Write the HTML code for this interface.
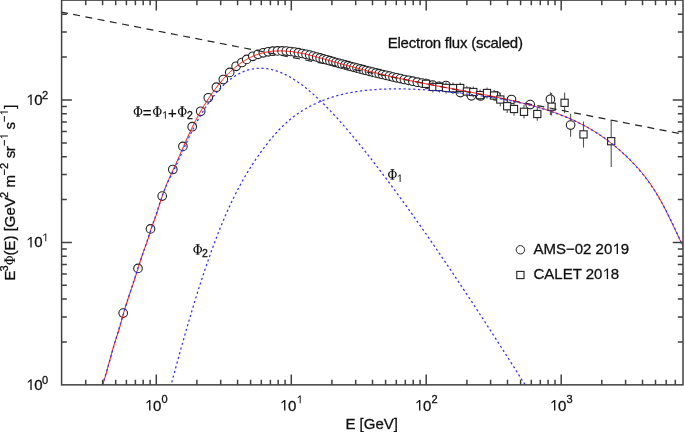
<!DOCTYPE html>
<html><head><meta charset="utf-8"><style>html,body{margin:0;padding:0;background:#fff;}svg{display:block;}</style></head><body>
<svg width="685" height="432" viewBox="0 0 685 432" style="will-change:transform">
<rect width="685" height="432" fill="#fff"/>
<defs><clipPath id="pc"><rect x="61.6" y="0.1" width="621.4" height="384.75"/></clipPath></defs>
<g stroke="#222" stroke-width="1.1" fill="#fff">
<line x1="550.4" y1="92.2" x2="550.4" y2="114.9" stroke="#555"/>
<line x1="570.6" y1="113.8" x2="570.6" y2="136.7" stroke="#555"/>
<circle cx="123.2" cy="313.1" r="4.3"/>
<circle cx="138.0" cy="268.4" r="4.3"/>
<circle cx="150.5" cy="228.9" r="4.3"/>
<circle cx="162.2" cy="196.1" r="4.3"/>
<circle cx="172.8" cy="169.5" r="4.3"/>
<circle cx="182.9" cy="146.4" r="4.3"/>
<circle cx="192.2" cy="126.7" r="4.3"/>
<circle cx="200.7" cy="111.3" r="4.3"/>
<circle cx="208.3" cy="97.8" r="4.3"/>
<circle cx="216.4" cy="87.2" r="4.3"/>
<circle cx="223.3" cy="79.5" r="4.3"/>
<circle cx="229.7" cy="72.4" r="4.3"/>
<circle cx="236.1" cy="66.3" r="4.3"/>
<circle cx="241.9" cy="62.5" r="4.3"/>
<circle cx="246.7" cy="59.4" r="4.3"/>
<circle cx="252.8" cy="56.3" r="4.3"/>
<circle cx="258.1" cy="54.3" r="4.3"/>
<circle cx="263.3" cy="52.8" r="4.3"/>
<circle cx="268.2" cy="51.8" r="4.3"/>
<circle cx="272.9" cy="51.2" r="4.3"/>
<circle cx="277.5" cy="50.9" r="4.3"/>
<circle cx="282.0" cy="50.9" r="4.3"/>
<circle cx="286.3" cy="51.1" r="4.3"/>
<circle cx="290.5" cy="51.5" r="4.3"/>
<circle cx="294.5" cy="52.1" r="4.3"/>
<circle cx="298.4" cy="52.7" r="4.3"/>
<circle cx="302.3" cy="53.5" r="4.3"/>
<circle cx="306.0" cy="54.3" r="4.3"/>
<circle cx="309.7" cy="55.1" r="4.3"/>
<circle cx="313.2" cy="56.1" r="4.3"/>
<circle cx="316.7" cy="57.0" r="4.3"/>
<circle cx="320.1" cy="57.9" r="4.3"/>
<circle cx="323.4" cy="58.9" r="4.3"/>
<circle cx="326.7" cy="59.8" r="4.3"/>
<circle cx="329.9" cy="60.7" r="4.3"/>
<circle cx="333.0" cy="61.6" r="4.3"/>
<circle cx="336.0" cy="62.5" r="4.3"/>
<circle cx="339.1" cy="63.3" r="4.3"/>
<circle cx="342.0" cy="64.1" r="4.3"/>
<circle cx="345.0" cy="64.9" r="4.3"/>
<circle cx="348.0" cy="65.7" r="4.3"/>
<circle cx="350.9" cy="66.5" r="4.3"/>
<circle cx="354.0" cy="67.3" r="4.3"/>
<circle cx="357.0" cy="68.1" r="4.3"/>
<circle cx="360.1" cy="68.9" r="4.3"/>
<circle cx="363.2" cy="69.7" r="4.3"/>
<circle cx="366.3" cy="70.5" r="4.3"/>
<circle cx="369.5" cy="71.3" r="4.3"/>
<circle cx="372.6" cy="72.1" r="4.3"/>
<circle cx="375.9" cy="72.9" r="4.3"/>
<circle cx="379.2" cy="73.7" r="4.3"/>
<circle cx="382.5" cy="74.5" r="4.3"/>
<circle cx="386.0" cy="75.3" r="4.3"/>
<circle cx="389.5" cy="76.1" r="4.3"/>
<circle cx="393.0" cy="77.0" r="4.3"/>
<circle cx="396.7" cy="77.8" r="4.3"/>
<circle cx="400.5" cy="78.6" r="4.3"/>
<circle cx="404.4" cy="79.5" r="4.3"/>
<circle cx="408.5" cy="80.3" r="4.3"/>
<circle cx="412.8" cy="81.2" r="4.3"/>
<circle cx="417.3" cy="82.2" r="4.3"/>
<circle cx="422.1" cy="83.1" r="4.3"/>
<circle cx="427.1" cy="84.1" r="4.3"/>
<circle cx="432.7" cy="85.1" r="4.3"/>
<circle cx="438.8" cy="86.3" r="4.3"/>
<circle cx="446.0" cy="85.5" r="4.3"/>
<circle cx="453.4" cy="88.5" r="4.3"/>
<circle cx="460.4" cy="92.6" r="4.3"/>
<circle cx="471.4" cy="95.8" r="4.3"/>
<circle cx="480.6" cy="96.0" r="4.3"/>
<circle cx="496.0" cy="95.8" r="4.3"/>
<circle cx="511.5" cy="99.5" r="4.3"/>
<circle cx="530.2" cy="104.6" r="4.3"/>
<circle cx="550.4" cy="99.3" r="4.3"/>
<circle cx="570.6" cy="125.1" r="4.3"/>
<line x1="426.0" y1="78.2" x2="426.0" y2="89.39999999999999" stroke="#555"/>
<rect x="422.4" y="80.2" width="7.2" height="7.2" stroke-width="1.1"/>
<line x1="432.9" y1="81.30000000000001" x2="432.9" y2="92.5" stroke="#555"/>
<rect x="429.3" y="83.3" width="7.2" height="7.2" stroke-width="1.1"/>
<line x1="439.4" y1="81.4" x2="439.4" y2="92.6" stroke="#555"/>
<rect x="435.8" y="83.4" width="7.2" height="7.2" stroke-width="1.1"/>
<line x1="446.0" y1="82.30000000000001" x2="446.0" y2="93.5" stroke="#555"/>
<rect x="442.4" y="84.3" width="7.2" height="7.2" stroke-width="1.1"/>
<line x1="453.0" y1="82.60000000000001" x2="453.0" y2="93.8" stroke="#555"/>
<rect x="449.4" y="84.6" width="7.2" height="7.2" stroke-width="1.1"/>
<line x1="460.2" y1="82.4" x2="460.2" y2="93.6" stroke="#555"/>
<rect x="456.6" y="84.4" width="7.2" height="7.2" stroke-width="1.1"/>
<line x1="466.9" y1="85.9" x2="466.9" y2="97.1" stroke="#555"/>
<rect x="463.3" y="87.9" width="7.2" height="7.2" stroke-width="1.1"/>
<line x1="473.3" y1="86.4" x2="473.3" y2="97.6" stroke="#555"/>
<rect x="469.7" y="88.4" width="7.2" height="7.2" stroke-width="1.1"/>
<line x1="480.1" y1="89.5" x2="480.1" y2="100.69999999999999" stroke="#555"/>
<rect x="476.5" y="91.5" width="7.2" height="7.2" stroke-width="1.1"/>
<line x1="487.0" y1="87.4" x2="487.0" y2="98.6" stroke="#555"/>
<rect x="483.4" y="89.4" width="7.2" height="7.2" stroke-width="1.1"/>
<line x1="494.0" y1="89.9" x2="494.0" y2="101.1" stroke="#555"/>
<rect x="490.4" y="91.9" width="7.2" height="7.2" stroke-width="1.1"/>
<line x1="500.3" y1="92.7" x2="500.3" y2="106.3" stroke="#555"/>
<rect x="496.7" y="95.9" width="7.2" height="7.2" stroke-width="1.1"/>
<line x1="507.2" y1="99.4" x2="507.2" y2="113.0" stroke="#555"/>
<rect x="503.6" y="102.6" width="7.2" height="7.2" stroke-width="1.1"/>
<line x1="514.0" y1="102.2" x2="514.0" y2="115.8" stroke="#555"/>
<rect x="510.4" y="105.4" width="7.2" height="7.2" stroke-width="1.1"/>
<line x1="524.0" y1="105.0" x2="524.0" y2="118.6" stroke="#555"/>
<rect x="520.4" y="108.2" width="7.2" height="7.2" stroke-width="1.1"/>
<line x1="537.3" y1="107.2" x2="537.3" y2="120.8" stroke="#555"/>
<rect x="533.7" y="110.4" width="7.2" height="7.2" stroke-width="1.1"/>
<line x1="551.6" y1="93.0" x2="551.6" y2="115.5" stroke="#555"/>
<rect x="548.0" y="103.1" width="7.2" height="7.2" stroke-width="1.1"/>
<line x1="564.6" y1="92.6" x2="564.6" y2="113.0" stroke="#555"/>
<rect x="561.0" y="99.2" width="7.2" height="7.2" stroke-width="1.1"/>
<line x1="583.5" y1="121.6" x2="583.5" y2="147.6" stroke="#555"/>
<rect x="579.9" y="130.8" width="7.2" height="7.2" stroke-width="1.1"/>
<line x1="611.2" y1="119.9" x2="611.2" y2="166.9" stroke="#555"/>
<rect x="607.6" y="137.6" width="7.2" height="7.2" stroke-width="1.1"/>
</g>
<g clip-path="url(#pc)" fill="none">
<line x1="60.95" y1="12.03" x2="690" y2="135.57" stroke="#222" stroke-width="1.2" stroke-dasharray="7 5.45"/>
<path d="M101.6,387.5 L102.6,384.9 L103.6,382.0 L104.6,378.8 L105.6,375.4 L106.6,371.9 L107.6,368.3 L108.6,364.6 L109.6,360.8 L110.6,357.1 L111.6,353.4 L112.6,349.8 L113.6,346.4 L114.6,343.2 L115.6,340.1 L116.6,337.1 L117.6,334.1 L118.6,331.0 L119.6,327.7 L120.6,324.2 L121.6,320.4 L122.6,316.6 L123.6,313.0 L124.6,309.5 L125.6,306.2 L126.6,303.0 L127.6,300.0 L128.6,297.0 L129.6,294.1 L130.6,291.2 L131.6,288.3 L132.6,285.4 L133.6,282.4 L134.6,279.3 L135.6,276.1 L136.6,272.9 L137.6,269.6 L138.6,266.4 L139.6,263.1 L140.6,260.0 L141.6,257.0 L142.6,254.1 L143.6,251.3 L144.6,248.6 L145.6,245.9 L146.6,243.2 L147.6,240.3 L148.6,237.1 L149.6,233.7 L150.6,230.3 L151.6,227.3 L152.6,224.6 L153.6,222.0 L154.6,219.4 L155.6,216.7 L156.6,213.8 L157.6,210.6 L158.6,207.4 L159.6,204.2 L160.6,201.0 L161.6,198.0 L162.6,195.1 L163.6,192.3 L164.6,189.6 L165.6,187.0 L166.6,184.5 L167.6,182.1 L168.6,179.8 L169.6,177.5 L170.6,175.3 L171.6,173.1 L172.6,170.9 L173.6,168.8 L174.6,166.6 L175.6,164.4 L176.6,162.2 L177.6,160.0 L178.6,157.8 L179.6,155.5 L180.6,153.2 L181.6,150.9 L182.6,148.6 L183.6,146.3 L184.6,144.0 L185.6,141.8 L186.6,139.5 L187.6,137.2 L188.6,135.0 L189.6,132.8 L190.6,130.7 L191.6,128.5 L192.6,126.5 L193.6,124.4 L194.6,122.4 L195.6,120.5 L196.6,118.6 L197.6,116.7 L198.6,114.9 L199.6,113.1 L200.6,111.4 L201.6,109.6 L202.6,107.9 L203.6,106.3 L204.6,104.7 L205.6,103.1 L206.6,101.5 L207.6,100.0 L208.6,98.4 L209.6,96.9 L210.6,95.5 L211.6,94.0 L212.6,92.6 L213.6,91.2 L214.6,89.8 L215.6,88.5 L216.6,87.2 L217.6,85.9 L218.6,84.6 L219.6,83.4 L220.6,82.1 L221.6,81.0 L222.6,79.8 L223.6,78.6 L224.6,77.5 L225.6,76.4 L226.6,75.4 L227.6,74.3 L228.6,73.3 L229.6,72.3 L230.6,71.4 L231.6,70.5 L232.6,69.6 L233.6,68.7 L234.6,67.8 L235.6,67.0 L236.6,66.2 L237.6,65.4 L238.6,64.6 L239.6,63.9 L240.6,63.2 L241.6,62.5 L242.6,61.8 L243.6,61.2 L244.6,60.6 L245.6,60.0 L246.6,59.4 L247.6,58.9 L248.6,58.3 L249.6,57.8 L250.6,57.3 L251.6,56.9 L252.6,56.4 L253.6,56.0 L254.6,55.6 L255.6,55.2 L256.6,54.8 L257.6,54.5 L258.6,54.1 L259.6,53.8 L260.6,53.5 L261.6,53.2 L262.6,53.0 L263.6,52.7 L264.6,52.5 L265.6,52.3 L266.6,52.1 L267.6,51.9 L268.6,51.7 L269.6,51.6 L270.6,51.5 L271.6,51.3 L272.6,51.2 L273.6,51.1 L274.6,51.1 L275.6,51.0 L276.6,51.0 L277.6,50.9 L278.6,50.9 L279.6,50.9 L280.6,50.9 L281.6,50.9 L282.6,50.9 L283.6,51.0 L284.6,51.0 L285.6,51.1 L286.6,51.1 L287.6,51.2 L288.6,51.3 L289.6,51.4 L290.6,51.5 L291.6,51.6 L292.6,51.8 L293.6,51.9 L294.6,52.1 L295.6,52.2 L296.6,52.4 L297.6,52.6 L298.6,52.7 L299.6,52.9 L300.6,53.1 L301.6,53.3 L302.6,53.5 L303.6,53.7 L304.6,53.9 L305.6,54.2 L306.6,54.4 L307.6,54.6 L308.6,54.9 L309.6,55.1 L310.6,55.4 L311.6,55.6 L312.6,55.9 L313.6,56.2 L314.6,56.4 L315.6,56.7 L316.6,57.0 L317.6,57.2 L318.6,57.5 L319.6,57.8 L320.6,58.1 L321.6,58.3 L322.6,58.6 L323.6,58.9 L324.6,59.2 L325.6,59.5 L326.6,59.8 L327.6,60.1 L328.6,60.3 L329.6,60.6 L330.6,60.9 L331.6,61.2 L332.6,61.5 L333.6,61.8 L334.6,62.1 L335.6,62.3 L336.6,62.6 L337.6,62.9 L338.6,63.2 L339.6,63.4 L340.6,63.7 L341.6,64.0 L342.6,64.3 L343.6,64.6 L344.6,64.8 L345.6,65.1 L346.6,65.4 L347.6,65.6 L348.6,65.9 L349.6,66.2 L350.6,66.4 L351.6,66.7 L352.6,67.0 L353.6,67.2 L354.6,67.5 L355.6,67.8 L356.6,68.0 L357.6,68.3 L358.6,68.6 L359.6,68.8 L360.6,69.1 L361.6,69.3 L362.6,69.6 L363.6,69.8 L364.6,70.1 L365.6,70.4 L366.6,70.6 L367.6,70.9 L368.6,71.1 L369.6,71.4 L370.6,71.6 L371.6,71.9 L372.6,72.1 L373.6,72.4 L374.6,72.6 L375.6,72.8 L376.6,73.1 L377.6,73.3 L378.6,73.6 L379.6,73.8 L380.6,74.1 L381.6,74.3 L382.6,74.5 L383.6,74.8 L384.6,75.0 L385.6,75.2 L386.6,75.5 L387.6,75.7 L388.6,75.9 L389.6,76.2 L390.6,76.4 L391.6,76.6 L392.6,76.9 L393.6,77.1 L394.6,77.3 L395.6,77.5 L396.6,77.8 L397.6,78.0 L398.6,78.2 L399.6,78.4 L400.6,78.6 L401.6,78.9 L402.6,79.1 L403.6,79.3 L404.6,79.5 L405.6,79.7 L406.6,79.9 L407.6,80.1 L408.6,80.4 L409.6,80.6 L410.6,80.8 L411.6,81.0 L412.6,81.2 L413.6,81.4 L414.6,81.6 L415.6,81.8 L416.6,82.0 L417.6,82.2 L418.6,82.4 L419.6,82.6 L420.6,82.8 L421.6,83.0 L422.6,83.2 L423.6,83.4 L424.6,83.6 L425.6,83.8 L426.6,84.0 L427.6,84.2 L428.6,84.4 L429.6,84.6 L430.6,84.7 L431.6,84.9 L432.6,85.1 L433.6,85.3 L434.6,85.5 L435.6,85.7 L436.6,85.9 L437.6,86.1 L438.6,86.2 L439.6,86.4 L440.6,86.6 L441.6,86.8 L442.6,87.0 L443.6,87.2 L444.6,87.4 L445.6,87.5 L446.6,87.7 L447.6,87.9 L448.6,88.1 L449.6,88.3 L450.6,88.4 L451.6,88.6 L452.6,88.8 L453.6,89.0 L454.6,89.2 L455.6,89.4 L456.6,89.5 L457.6,89.7 L458.6,89.9 L459.6,90.1 L460.6,90.3 L461.6,90.5 L462.6,90.6 L463.6,90.8 L464.6,91.0 L465.6,91.2 L466.6,91.4 L467.6,91.6 L468.6,91.8 L469.6,91.9 L470.6,92.1 L471.6,92.3 L472.6,92.5 L473.6,92.7 L474.6,92.9 L475.6,93.1 L476.6,93.3 L477.6,93.4 L478.6,93.6 L479.6,93.8 L480.6,94.0 L481.6,94.2 L482.6,94.4 L483.6,94.6 L484.6,94.8 L485.6,95.0 L486.6,95.2 L487.6,95.4 L488.6,95.6 L489.6,95.8 L490.6,96.0 L491.6,96.2 L492.6,96.4 L493.6,96.6 L494.6,96.8 L495.6,97.0 L496.6,97.2 L497.6,97.4 L498.6,97.6 L499.6,97.9 L500.6,98.1 L501.6,98.3 L502.6,98.5 L503.6,98.7 L504.6,98.9 L505.6,99.1 L506.6,99.4 L507.6,99.6 L508.6,99.8 L509.6,100.0 L510.6,100.3 L511.6,100.5 L512.6,100.7 L513.6,101.0 L514.6,101.2 L515.6,101.4 L516.6,101.7 L517.6,101.9 L518.6,102.1 L519.6,102.4 L520.6,102.6 L521.6,102.9 L522.6,103.1 L523.6,103.4 L524.6,103.6 L525.6,103.9 L526.6,104.1 L527.6,104.4 L528.6,104.7 L529.6,104.9 L530.6,105.2 L531.6,105.5 L532.6,105.7 L533.6,106.0 L534.6,106.3 L535.6,106.6 L536.6,106.8 L537.6,107.1 L538.6,107.4 L539.6,107.7 L540.6,108.0 L541.6,108.3 L542.6,108.6 L543.6,108.9 L544.6,109.2 L545.6,109.5 L546.6,109.8 L547.6,110.2 L548.6,110.5 L549.6,110.8 L550.6,111.2 L551.6,111.5 L552.6,111.8 L553.6,112.2 L554.6,112.5 L555.6,112.9 L556.6,113.3 L557.6,113.6 L558.6,114.0 L559.6,114.4 L560.6,114.8 L561.6,115.2 L562.6,115.5 L563.6,115.9 L564.6,116.4 L565.6,116.8 L566.6,117.2 L567.6,117.6 L568.6,118.0 L569.6,118.5 L570.6,118.9 L571.6,119.4 L572.6,119.8 L573.6,120.3 L574.6,120.7 L575.6,121.2 L576.6,121.7 L577.6,122.2 L578.6,122.7 L579.6,123.2 L580.6,123.7 L581.6,124.2 L582.6,124.7 L583.6,125.3 L584.6,125.8 L585.6,126.3 L586.6,126.9 L587.6,127.5 L588.6,128.0 L589.6,128.6 L590.6,129.2 L591.6,129.8 L592.6,130.4 L593.6,131.0 L594.6,131.6 L595.6,132.3 L596.6,132.9 L597.6,133.5 L598.6,134.2 L599.6,134.9 L600.6,135.5 L601.6,136.2 L602.6,136.9 L603.6,137.6 L604.6,138.3 L605.6,139.0 L606.6,139.8 L607.6,140.5 L608.6,141.3 L609.6,142.0 L610.6,142.8 L611.6,143.6 L612.6,144.4 L613.6,145.2 L614.6,146.0 L615.6,146.8 L616.6,147.6 L617.6,148.5 L618.6,149.3 L619.6,150.2 L620.6,151.1 L621.6,152.0 L622.6,152.9 L623.6,153.8 L624.6,154.7 L625.6,155.6 L626.6,156.6 L627.6,157.5 L628.6,158.5 L629.6,159.5 L630.6,160.5 L631.6,161.5 L632.6,162.5 L633.6,163.5 L634.6,164.6 L635.6,165.6 L636.6,166.7 L637.6,167.8 L638.6,168.9 L639.6,170.1 L640.6,171.2 L641.6,172.4 L642.6,173.6 L643.6,174.8 L644.6,176.1 L645.6,177.3 L646.6,178.7 L647.6,180.0 L648.6,181.4 L649.6,182.7 L650.6,184.2 L651.6,185.6 L652.6,187.1 L653.6,188.7 L654.6,190.2 L655.6,191.8 L656.6,193.5 L657.6,195.2 L658.6,196.9 L659.6,198.7 L660.6,200.5 L661.6,202.3 L662.6,204.2 L663.6,206.1 L664.6,208.1 L665.6,210.0 L666.6,212.0 L667.6,214.0 L668.6,216.1 L669.6,218.1 L670.6,220.2 L671.6,222.3 L672.6,224.4 L673.6,226.5 L674.6,228.6 L675.6,230.7 L676.6,232.8 L677.6,235.0 L678.6,237.1 L679.6,239.2 L680.6,241.3 L681.6,243.3 L682.6,245.4 L683.6,247.5" stroke="#ff0000" stroke-width="0.95"/>
<path d="M101.4,387.6 L102.4,384.9 L103.4,381.9 L104.4,378.8 L105.4,375.6 L106.4,372.3 L107.4,368.8 L108.4,365.3 L109.4,361.8 L110.4,358.2 L111.4,354.6 L112.4,351.1 L113.4,347.6 L114.4,344.1 L115.4,340.7 L116.4,337.3 L117.4,333.9 L118.4,330.5 L119.4,327.2 L120.4,323.8 L121.4,320.5 L122.4,317.3 L123.4,314.0 L124.4,310.7 L125.4,307.5 L126.4,304.3 L127.4,301.1 L128.4,297.9 L129.4,294.7 L130.4,291.6 L131.4,288.5 L132.4,285.3 L133.4,282.2 L134.4,279.2 L135.4,276.1 L136.4,273.0 L137.4,270.0 L138.4,267.0 L139.4,264.0 L140.4,261.0 L141.4,258.0 L142.4,255.0 L143.4,252.1 L144.4,249.1 L145.4,246.2 L146.4,243.2 L147.4,240.3 L148.4,237.3 L149.4,234.4 L150.4,231.4 L151.4,228.4 L152.4,225.4 L153.4,222.5 L154.4,219.5 L155.4,216.5 L156.4,213.5 L157.4,210.5 L158.4,207.4 L159.4,204.5 L160.4,201.5 L161.4,198.6 L162.4,195.7 L163.4,193.0 L164.4,190.3 L165.4,187.8 L166.4,185.3 L167.4,183.1 L168.4,180.9 L169.4,178.8 L170.4,176.8 L171.4,174.8 L172.4,172.8 L173.4,170.9 L174.4,168.9 L175.4,166.9 L176.4,164.8 L177.4,162.7 L178.4,160.5 L179.4,158.3 L180.4,156.1 L181.4,153.9 L182.4,151.6 L183.4,149.4 L184.4,147.2 L185.4,145.0 L186.4,142.8 L187.4,140.6 L188.4,138.5 L189.4,136.4 L190.4,134.4 L191.4,132.3 L192.4,130.3 L193.4,128.4 L194.4,126.5 L195.4,124.6 L196.4,122.7 L197.4,120.9 L198.4,119.1 L199.4,117.4 L200.4,115.7 L201.4,114.0 L202.4,112.3 L203.4,110.7 L204.4,109.1 L205.4,107.6 L206.4,106.1 L207.4,104.6 L208.4,103.1 L209.4,101.7 L210.4,100.4 L211.4,99.0 L212.4,97.7 L213.4,96.4 L214.4,95.1 L215.4,93.9 L216.4,92.7 L217.4,91.6 L218.4,90.4 L219.4,89.3 L220.4,88.3 L221.4,87.2 L222.4,86.2 L223.4,85.2 L224.4,84.3 L225.4,83.4 L226.4,82.5 L227.4,81.6 L228.4,80.8 L229.4,80.0 L230.4,79.2 L231.4,78.5 L232.4,77.7 L233.4,77.0 L234.4,76.4 L235.4,75.7 L236.4,75.1 L237.4,74.6 L238.4,74.0 L239.4,73.5 L240.4,73.0 L241.4,72.5 L242.4,72.1 L243.4,71.6 L244.4,71.2 L245.4,70.9 L246.4,70.5 L247.4,70.2 L248.4,69.9 L249.4,69.6 L250.4,69.4 L251.4,69.2 L252.4,69.0 L253.4,68.8 L254.4,68.6 L255.4,68.5 L256.4,68.4 L257.4,68.3 L258.4,68.3 L259.4,68.2 L260.4,68.2 L261.4,68.2 L262.4,68.3 L263.4,68.3 L264.4,68.4 L265.4,68.5 L266.4,68.6 L267.4,68.7 L268.4,68.9 L269.4,69.1 L270.4,69.3 L271.4,69.5 L272.4,69.8 L273.4,70.0 L274.4,70.3 L275.4,70.6 L276.4,70.9 L277.4,71.3 L278.4,71.6 L279.4,72.0 L280.4,72.4 L281.4,72.8 L282.4,73.2 L283.4,73.7 L284.4,74.2 L285.4,74.6 L286.4,75.1 L287.4,75.7 L288.4,76.2 L289.4,76.7 L290.4,77.3 L291.4,77.9 L292.4,78.5 L293.4,79.1 L294.4,79.7 L295.4,80.4 L296.4,81.0 L297.4,81.7 L298.4,82.4 L299.4,83.1 L300.4,83.8 L301.4,84.6 L302.4,85.3 L303.4,86.1 L304.4,86.9 L305.4,87.6 L306.4,88.4 L307.4,89.2 L308.4,90.1 L309.4,90.9 L310.4,91.8 L311.4,92.6 L312.4,93.5 L313.4,94.4 L314.4,95.3 L315.4,96.2 L316.4,97.1 L317.4,98.0 L318.4,99.0 L319.4,99.9 L320.4,100.9 L321.4,101.8 L322.4,102.8 L323.4,103.8 L324.4,104.8 L325.4,105.8 L326.4,106.8 L327.4,107.8 L328.4,108.8 L329.4,109.9 L330.4,110.9 L331.4,112.0 L332.4,113.0 L333.4,114.1 L334.4,115.2 L335.4,116.2 L336.4,117.3 L337.4,118.4 L338.4,119.5 L339.4,120.6 L340.4,121.8 L341.4,122.9 L342.4,124.0 L343.4,125.2 L344.4,126.3 L345.4,127.4 L346.4,128.6 L347.4,129.8 L348.4,130.9 L349.4,132.1 L350.4,133.3 L351.4,134.5 L352.4,135.7 L353.4,136.9 L354.4,138.1 L355.4,139.3 L356.4,140.5 L357.4,141.7 L358.4,142.9 L359.4,144.2 L360.4,145.4 L361.4,146.6 L362.4,147.9 L363.4,149.1 L364.4,150.4 L365.4,151.7 L366.4,152.9 L367.4,154.2 L368.4,155.5 L369.4,156.7 L370.4,158.0 L371.4,159.3 L372.4,160.6 L373.4,161.9 L374.4,163.2 L375.4,164.5 L376.4,165.8 L377.4,167.1 L378.4,168.4 L379.4,169.7 L380.4,171.0 L381.4,172.3 L382.4,173.7 L383.4,175.0 L384.4,176.3 L385.4,177.6 L386.4,179.0 L387.4,180.3 L388.4,181.7 L389.4,183.0 L390.4,184.3 L391.4,185.7 L392.4,187.0 L393.4,188.4 L394.4,189.8 L395.4,191.1 L396.4,192.5 L397.4,193.8 L398.4,195.2 L399.4,196.6 L400.4,198.0 L401.4,199.3 L402.4,200.7 L403.4,202.1 L404.4,203.5 L405.4,204.9 L406.4,206.2 L407.4,207.6 L408.4,209.0 L409.4,210.4 L410.4,211.8 L411.4,213.2 L412.4,214.6 L413.4,216.0 L414.4,217.4 L415.4,218.8 L416.4,220.3 L417.4,221.7 L418.4,223.1 L419.4,224.5 L420.4,225.9 L421.4,227.4 L422.4,228.8 L423.4,230.2 L424.4,231.6 L425.4,233.1 L426.4,234.5 L427.4,236.0 L428.4,237.4 L429.4,238.8 L430.4,240.3 L431.4,241.7 L432.4,243.2 L433.4,244.6 L434.4,246.1 L435.4,247.5 L436.4,249.0 L437.4,250.5 L438.4,251.9 L439.4,253.4 L440.4,254.8 L441.4,256.3 L442.4,257.8 L443.4,259.3 L444.4,260.7 L445.4,262.2 L446.4,263.7 L447.4,265.2 L448.4,266.6 L449.4,268.1 L450.4,269.6 L451.4,271.1 L452.4,272.6 L453.4,274.1 L454.4,275.6 L455.4,277.1 L456.4,278.6 L457.4,280.1 L458.4,281.6 L459.4,283.1 L460.4,284.6 L461.4,286.1 L462.4,287.6 L463.4,289.1 L464.4,290.6 L465.4,292.1 L466.4,293.6 L467.4,295.1 L468.4,296.7 L469.4,298.2 L470.4,299.7 L471.4,301.2 L472.4,302.7 L473.4,304.3 L474.4,305.8 L475.4,307.3 L476.4,308.9 L477.4,310.4 L478.4,311.9 L479.4,313.5 L480.4,315.0 L481.4,316.5 L482.4,318.1 L483.4,319.6 L484.4,321.1 L485.4,322.7 L486.4,324.2 L487.4,325.8 L488.4,327.3 L489.4,328.9 L490.4,330.4 L491.4,332.0 L492.4,333.5 L493.4,335.1 L494.4,336.6 L495.4,338.2 L496.4,339.7 L497.4,341.3 L498.4,342.9 L499.4,344.4 L500.4,346.0 L501.4,347.5 L502.4,349.1 L503.4,350.7 L504.4,352.2 L505.4,353.8 L506.4,355.4 L507.4,356.9 L508.4,358.5 L509.4,360.1 L510.4,361.6 L511.4,363.2 L512.4,364.8 L513.4,366.4 L514.4,367.9 L515.4,369.5 L516.4,371.1 L517.4,372.7 L518.4,374.2 L519.4,375.8 L520.4,377.4 L521.4,379.0 L522.4,380.6 L523.4,382.2 L524.4,383.7 L525.4,385.3" stroke="#3030ff" stroke-width="1.25" stroke-dasharray="2.2 2.65" stroke-dashoffset="2.25"/>
<path d="M170.1,388.6 L171.1,384.8 L172.1,381.1 L173.1,377.4 L174.1,373.7 L175.1,370.0 L176.1,366.3 L177.1,362.6 L178.1,359.0 L179.1,355.4 L180.1,351.8 L181.1,348.2 L182.1,344.6 L183.1,341.1 L184.1,337.6 L185.1,334.1 L186.1,330.6 L187.1,327.1 L188.1,323.7 L189.1,320.3 L190.1,316.9 L191.1,313.5 L192.1,310.2 L193.1,306.9 L194.1,303.6 L195.1,300.3 L196.1,297.1 L197.1,293.9 L198.1,290.7 L199.1,287.6 L200.1,284.4 L201.1,281.3 L202.1,278.3 L203.1,275.2 L204.1,272.2 L205.1,269.2 L206.1,266.3 L207.1,263.4 L208.1,260.5 L209.1,257.6 L210.1,254.8 L211.1,252.0 L212.1,249.2 L213.1,246.5 L214.1,243.8 L215.1,241.1 L216.1,238.5 L217.1,235.9 L218.1,233.3 L219.1,230.8 L220.1,228.3 L221.1,225.8 L222.1,223.4 L223.1,221.0 L224.1,218.7 L225.1,216.3 L226.1,214.0 L227.1,211.8 L228.1,209.5 L229.1,207.3 L230.1,205.2 L231.1,203.0 L232.1,200.9 L233.1,198.9 L234.1,196.8 L235.1,194.8 L236.1,192.8 L237.1,190.9 L238.1,189.0 L239.1,187.1 L240.1,185.2 L241.1,183.4 L242.1,181.6 L243.1,179.8 L244.1,178.0 L245.1,176.3 L246.1,174.6 L247.1,172.9 L248.1,171.3 L249.1,169.7 L250.1,168.1 L251.1,166.5 L252.1,164.9 L253.1,163.4 L254.1,161.9 L255.1,160.4 L256.1,158.9 L257.1,157.4 L258.1,156.0 L259.1,154.5 L260.1,153.1 L261.1,151.7 L262.1,150.4 L263.1,149.0 L264.1,147.7 L265.1,146.4 L266.1,145.1 L267.1,143.8 L268.1,142.5 L269.1,141.3 L270.1,140.0 L271.1,138.8 L272.1,137.6 L273.1,136.4 L274.1,135.3 L275.1,134.2 L276.1,133.0 L277.1,131.9 L278.1,130.9 L279.1,129.8 L280.1,128.8 L281.1,127.7 L282.1,126.7 L283.1,125.8 L284.1,124.8 L285.1,123.9 L286.1,122.9 L287.1,122.1 L288.1,121.2 L289.1,120.3 L290.1,119.5 L291.1,118.7 L292.1,117.9 L293.1,117.1 L294.1,116.3 L295.1,115.6 L296.1,114.9 L297.1,114.1 L298.1,113.5 L299.1,112.8 L300.1,112.1 L301.1,111.5 L302.1,110.9 L303.1,110.2 L304.1,109.6 L305.1,109.0 L306.1,108.5 L307.1,107.9 L308.1,107.4 L309.1,106.8 L310.1,106.3 L311.1,105.8 L312.1,105.3 L313.1,104.8 L314.1,104.3 L315.1,103.8 L316.1,103.4 L317.1,102.9 L318.1,102.5 L319.1,102.0 L320.1,101.6 L321.1,101.2 L322.1,100.8 L323.1,100.4 L324.1,100.0 L325.1,99.6 L326.1,99.2 L327.1,98.9 L328.1,98.5 L329.1,98.2 L330.1,97.8 L331.1,97.5 L332.1,97.2 L333.1,96.9 L334.1,96.6 L335.1,96.3 L336.1,96.0 L337.1,95.7 L338.1,95.4 L339.1,95.1 L340.1,94.9 L341.1,94.6 L342.1,94.4 L343.1,94.1 L344.1,93.9 L345.1,93.7 L346.1,93.5 L347.1,93.2 L348.1,93.0 L349.1,92.8 L350.1,92.6 L351.1,92.5 L352.1,92.3 L353.1,92.1 L354.1,91.9 L355.1,91.8 L356.1,91.6 L357.1,91.5 L358.1,91.3 L359.1,91.2 L360.1,91.0 L361.1,90.9 L362.1,90.8 L363.1,90.6 L364.1,90.5 L365.1,90.4 L366.1,90.3 L367.1,90.2 L368.1,90.1 L369.1,90.0 L370.1,89.9 L371.1,89.8 L372.1,89.8 L373.1,89.7 L374.1,89.6 L375.1,89.5 L376.1,89.5 L377.1,89.4 L378.1,89.4 L379.1,89.3 L380.1,89.2 L381.1,89.2 L382.1,89.2 L383.1,89.1 L384.1,89.1 L385.1,89.0 L386.1,89.0 L387.1,89.0 L388.1,88.9 L389.1,88.9 L390.1,88.9 L391.1,88.9 L392.1,88.9 L393.1,88.9 L394.1,88.8 L395.1,88.8 L396.1,88.8 L397.1,88.8 L398.1,88.8 L399.1,88.8 L400.1,88.8 L401.1,88.9 L402.1,88.9 L403.1,88.9 L404.1,88.9 L405.1,88.9 L406.1,88.9 L407.1,89.0 L408.1,89.0 L409.1,89.0 L410.1,89.1 L411.1,89.1 L412.1,89.1 L413.1,89.2 L414.1,89.2 L415.1,89.3 L416.1,89.3 L417.1,89.4 L418.1,89.4 L419.1,89.5 L420.1,89.5 L421.1,89.6 L422.1,89.6 L423.1,89.7 L424.1,89.8 L425.1,89.8 L426.1,89.9 L427.1,90.0 L428.1,90.0 L429.1,90.1 L430.1,90.2 L431.1,90.3 L432.1,90.3 L433.1,90.4 L434.1,90.5 L435.1,90.6 L436.1,90.7 L437.1,90.8 L438.1,90.8 L439.1,90.9 L440.1,91.0 L441.1,91.1 L442.1,91.2 L443.1,91.3 L444.1,91.4 L445.1,91.5 L446.1,91.6 L447.1,91.7 L448.1,91.8 L449.1,91.9 L450.1,92.0 L451.1,92.1 L452.1,92.3 L453.1,92.4 L454.1,92.5 L455.1,92.6 L456.1,92.7 L457.1,92.8 L458.1,92.9 L459.1,93.1 L460.1,93.2 L461.1,93.3 L462.1,93.4 L463.1,93.5 L464.1,93.7 L465.1,93.8 L466.1,93.9 L467.1,94.0 L468.1,94.2 L469.1,94.3 L470.1,94.4 L471.1,94.5 L472.1,94.7 L473.1,94.8 L474.1,94.9 L475.1,95.1 L476.1,95.2 L477.1,95.3 L478.1,95.5 L479.1,95.6 L480.1,95.7 L481.1,95.9 L482.1,96.0 L483.1,96.2 L484.1,96.3 L485.1,96.5 L486.1,96.6 L487.1,96.8 L488.1,96.9 L489.1,97.1 L490.1,97.2 L491.1,97.4 L492.1,97.5 L493.1,97.7 L494.1,97.8 L495.1,98.0 L496.1,98.2 L497.1,98.3 L498.1,98.5 L499.1,98.7 L500.1,98.8 L501.1,99.0 L502.1,99.2 L503.1,99.4 L504.1,99.5 L505.1,99.7 L506.1,99.9 L507.1,100.1 L508.1,100.3 L509.1,100.5 L510.1,100.7 L511.1,100.9 L512.1,101.1 L513.1,101.3 L514.1,101.5 L515.1,101.7 L516.1,101.9 L517.1,102.1 L518.1,102.3 L519.1,102.6 L520.1,102.8 L521.1,103.0 L522.1,103.3 L523.1,103.5 L524.1,103.7 L525.1,104.0 L526.1,104.2 L527.1,104.5 L528.1,104.7 L529.1,105.0 L530.1,105.2 L531.1,105.5 L532.1,105.7 L533.1,106.0 L534.1,106.3 L535.1,106.6 L536.1,106.8 L537.1,107.1 L538.1,107.4 L539.1,107.7 L540.1,108.0 L541.1,108.3 L542.1,108.6 L543.1,108.9 L544.1,109.2 L545.1,109.5 L546.1,109.8 L547.1,110.2 L548.1,110.5 L549.1,110.8 L550.1,111.2 L551.1,111.5 L552.1,111.8 L553.1,112.2 L554.1,112.5 L555.1,112.9 L556.1,113.3 L557.1,113.6 L558.1,114.0 L559.1,114.4 L560.1,114.8 L561.1,115.2 L562.1,115.6 L563.1,116.0 L564.1,116.4 L565.1,116.8 L566.1,117.2 L567.1,117.6 L568.1,118.0 L569.1,118.4 L570.1,118.9 L571.1,119.3 L572.1,119.8 L573.1,120.2 L574.1,120.7 L575.1,121.1 L576.1,121.6 L577.1,122.1 L578.1,122.6 L579.1,123.1 L580.1,123.5 L581.1,124.0 L582.1,124.6 L583.1,125.1 L584.1,125.6 L585.1,126.1 L586.1,126.7 L587.1,127.2 L588.1,127.8 L589.1,128.3 L590.1,128.9 L591.1,129.5 L592.1,130.1 L593.1,130.6 L594.1,131.2 L595.1,131.9 L596.1,132.5 L597.1,133.1 L598.1,133.8 L599.1,134.4 L600.1,135.1 L601.1,135.7 L602.1,136.4 L603.1,137.1 L604.1,137.8 L605.1,138.5 L606.1,139.2 L607.1,139.9 L608.1,140.7 L609.1,141.4 L610.1,142.2 L611.1,143.0 L612.1,143.8 L613.1,144.6 L614.1,145.4 L615.1,146.2 L616.1,147.0 L617.1,147.9 L618.1,148.7 L619.1,149.6 L620.1,150.5 L621.1,151.4 L622.1,152.3 L623.1,153.2 L624.1,154.1 L625.1,155.1 L626.1,156.0 L627.1,157.0 L628.1,158.0 L629.1,159.0 L630.1,160.0 L631.1,161.0 L632.1,162.1 L633.1,163.1 L634.1,164.2 L635.1,165.3 L636.1,166.4 L637.1,167.5 L638.1,168.7 L639.1,169.8 L640.1,171.0 L641.1,172.2 L642.1,173.4 L643.1,174.7 L644.1,175.9 L645.1,177.2 L646.1,178.5 L647.1,179.9 L648.1,181.3 L649.1,182.6 L650.1,184.1 L651.1,185.5 L652.1,187.0 L653.1,188.5 L654.1,190.0 L655.1,191.6 L656.1,193.1 L657.1,194.8 L658.1,196.4 L659.1,198.1 L660.1,199.8 L661.1,201.6 L662.1,203.3 L663.1,205.1 L664.1,207.0 L665.1,208.9 L666.1,210.8 L667.1,212.7 L668.1,214.7 L669.1,216.6 L670.1,218.6 L671.1,220.7 L672.1,222.7 L673.1,224.8 L674.1,226.9 L675.1,229.1 L676.1,231.2 L677.1,233.4 L678.1,235.6 L679.1,237.8 L680.1,240.0 L681.1,242.3 L682.1,244.6 L683.1,246.9" stroke="#3030ff" stroke-width="1.25" stroke-dasharray="2.2 2.65" stroke-dashoffset="3.25"/>
</g>
<g stroke="#404040" stroke-width="1.5" fill="none">
<rect x="61.6" y="0.1" width="621.4" height="384.75"/>
<path d="M85.7,384.85v-5.2 M85.7,0.1v5.2 M102.6,384.85v-5.2 M102.6,0.1v5.2 M115.7,384.85v-5.2 M115.7,0.1v5.2 M126.4,384.85v-5.2 M126.4,0.1v5.2 M135.4,384.85v-5.2 M135.4,0.1v5.2 M143.2,384.85v-5.2 M143.2,0.1v5.2 M150.1,384.85v-5.2 M150.1,0.1v5.2 M156.3,384.85v-10.3 M156.3,0.1v10.3 M196.9,384.85v-5.2 M196.9,0.1v5.2 M220.7,384.85v-5.2 M220.7,0.1v5.2 M237.6,384.85v-5.2 M237.6,0.1v5.2 M250.6,384.85v-5.2 M250.6,0.1v5.2 M261.3,384.85v-5.2 M261.3,0.1v5.2 M270.4,384.85v-5.2 M270.4,0.1v5.2 M278.2,384.85v-5.2 M278.2,0.1v5.2 M285.1,384.85v-5.2 M285.1,0.1v5.2 M291.3,384.85v-10.3 M291.3,0.1v10.3 M331.9,384.85v-5.2 M331.9,0.1v5.2 M355.7,384.85v-5.2 M355.7,0.1v5.2 M372.5,384.85v-5.2 M372.5,0.1v5.2 M385.6,384.85v-5.2 M385.6,0.1v5.2 M396.3,384.85v-5.2 M396.3,0.1v5.2 M405.3,384.85v-5.2 M405.3,0.1v5.2 M413.2,384.85v-5.2 M413.2,0.1v5.2 M420.1,384.85v-5.2 M420.1,0.1v5.2 M426.2,384.85v-10.3 M426.2,0.1v10.3 M466.9,384.85v-5.2 M466.9,0.1v5.2 M490.6,384.85v-5.2 M490.6,0.1v5.2 M507.5,384.85v-5.2 M507.5,0.1v5.2 M520.6,384.85v-5.2 M520.6,0.1v5.2 M531.3,384.85v-5.2 M531.3,0.1v5.2 M540.3,384.85v-5.2 M540.3,0.1v5.2 M548.1,384.85v-5.2 M548.1,0.1v5.2 M555.0,384.85v-5.2 M555.0,0.1v5.2 M561.2,384.85v-10.3 M561.2,0.1v10.3 M601.8,384.85v-5.2 M601.8,0.1v5.2 M625.6,384.85v-5.2 M625.6,0.1v5.2 M642.5,384.85v-5.2 M642.5,0.1v5.2 M655.5,384.85v-5.2 M655.5,0.1v5.2 M666.2,384.85v-5.2 M666.2,0.1v5.2 M675.3,384.85v-5.2 M675.3,0.1v5.2 M61.6,342.0h5.2 M683.0,342.0h-5.2 M61.6,316.9h5.2 M683.0,316.9h-5.2 M61.6,299.1h5.2 M683.0,299.1h-5.2 M61.6,285.3h5.2 M683.0,285.3h-5.2 M61.6,274.0h5.2 M683.0,274.0h-5.2 M61.6,264.5h5.2 M683.0,264.5h-5.2 M61.6,256.2h5.2 M683.0,256.2h-5.2 M61.6,248.9h5.2 M683.0,248.9h-5.2 M61.6,242.4h10.3 M683.0,242.4h-10.3 M61.6,199.5h5.2 M683.0,199.5h-5.2 M61.6,174.5h5.2 M683.0,174.5h-5.2 M61.6,156.7h5.2 M683.0,156.7h-5.2 M61.6,142.9h5.2 M683.0,142.9h-5.2 M61.6,131.6h5.2 M683.0,131.6h-5.2 M61.6,122.1h5.2 M683.0,122.1h-5.2 M61.6,113.8h5.2 M683.0,113.8h-5.2 M61.6,106.5h5.2 M683.0,106.5h-5.2 M61.6,100.0h10.3 M683.0,100.0h-10.3 M61.6,57.1h5.2 M683.0,57.1h-5.2 M61.6,32.0h5.2 M683.0,32.0h-5.2 M61.6,14.2h5.2 M683.0,14.2h-5.2"/>
</g>
<g stroke="#222" stroke-width="1" fill="#fff"><circle cx="520.4" cy="249.8" r="4.2"/><rect x="516.8" y="271.4" width="7.2" height="7.2" stroke-width="1.1"/></g>
<g font-family="Liberation Sans, sans-serif" font-size="15" fill="#111" stroke="#111" stroke-width="0.3">
<text x="144.75" y="410.6"> 0</text><path transform="translate(144.75,410.60) scale(0.0150,-0.0150)" d="M379,0L291,0L291,598L116,468L116,550L306,703L379,703Z"/><text x="161.55" y="403.3" font-size="11">0</text>
<text x="279.72" y="410.6"> 0</text><path transform="translate(279.72,410.60) scale(0.0150,-0.0150)" d="M379,0L291,0L291,598L116,468L116,550L306,703L379,703Z"/><text x="296.52" y="403.3" font-size="11"> </text><path transform="translate(296.52,403.30) scale(0.0110,-0.0110)" d="M379,0L291,0L291,598L116,468L116,550L306,703L379,703Z"/>
<text x="414.69" y="410.6"> 0</text><path transform="translate(414.69,410.60) scale(0.0150,-0.0150)" d="M379,0L291,0L291,598L116,468L116,550L306,703L379,703Z"/><text x="431.49" y="403.3" font-size="11">2</text>
<text x="549.66" y="410.6"> 0</text><path transform="translate(549.66,410.60) scale(0.0150,-0.0150)" d="M379,0L291,0L291,598L116,468L116,550L306,703L379,703Z"/><text x="566.46" y="403.3" font-size="11">3</text>
<text x="26.0" y="389.90"> 0</text><path transform="translate(26.00,389.90) scale(0.0150,-0.0150)" d="M379,0L291,0L291,598L116,468L116,550L306,703L379,703Z"/><text x="42.1" y="383.60" font-size="11">0</text>
<text x="26.0" y="247.47"> 0</text><path transform="translate(26.00,247.47) scale(0.0150,-0.0150)" d="M379,0L291,0L291,598L116,468L116,550L306,703L379,703Z"/><text x="42.1" y="241.17" font-size="11"> </text><path transform="translate(42.10,241.17) scale(0.0110,-0.0110)" d="M379,0L291,0L291,598L116,468L116,550L306,703L379,703Z"/>
<text x="26.0" y="105.04"> 0</text><path transform="translate(26.00,105.04) scale(0.0150,-0.0150)" d="M379,0L291,0L291,598L116,468L116,550L306,703L379,703Z"/><text x="42.1" y="98.74" font-size="11">2</text>
<text x="345.4" y="429">E [GeV]</text>
<text x="387.7" y="47.8" textLength="135.2" lengthAdjust="spacing">Electron flux (scaled)</text>
<text x="533.5" y="254.1">AMS−02 20 9</text><path transform="translate(612.30,254.10) scale(0.0150,-0.0150)" d="M379,0L291,0L291,598L116,468L116,550L306,703L379,703Z"/>
<text x="533.5" y="279">CALET 20 8</text><path transform="translate(602.42,279.00) scale(0.0150,-0.0150)" d="M379,0L291,0L291,598L116,468L116,550L306,703L379,703Z"/>
<g transform="rotate(-90)">
<text x="-280.5" y="14.7">E</text>
<text x="-271.4" y="7.9" font-size="11">3</text>
<text x="-255.5" y="14.7">(E) [GeV</text>
<text x="-198.1" y="7.9" font-size="11">2</text>
<text x="-187.6" y="14.7">m</text>
<text x="-175.5" y="7.9" font-size="11">−2</text>
<text x="-158.2" y="14.7">s</text>
<text x="-151.3" y="14.7">r</text>
<text x="-146.0" y="7.9" font-size="11">− </text><path transform="translate(-139.58,7.90) scale(0.0110,-0.0110)" d="M379,0L291,0L291,598L116,468L116,550L306,703L379,703Z"/>
<text x="-129.5" y="14.7">s</text>
<text x="-122.0" y="7.9" font-size="11">− </text><path transform="translate(-115.58,7.90) scale(0.0110,-0.0110)" d="M379,0L291,0L291,598L116,468L116,550L306,703L379,703Z"/>
<text x="-108.7" y="14.7">]</text>
</g>
</g>
<g fill="#111" stroke="#111" stroke-width="0.3">
<g transform="translate(138.00,111.50)" fill="#111" stroke="none"><path fill-rule="evenodd" d="M-4.35,0a4.35,3.5 0 1,0 8.7,0a4.35,3.5 0 1,0 -8.7,0ZM-3.0,0a3.0,3.0 0 1,0 6.0,0a3.0,3.0 0 1,0 -6.0,0Z"/><rect x="-0.8" y="-5.05" width="1.6" height="10.1"/><rect x="-1.95" y="-5.05" width="3.9" height="0.75"/><rect x="-1.95" y="4.3" width="3.9" height="0.75"/></g>
<g transform="translate(157.30,111.50)" fill="#111" stroke="none"><path fill-rule="evenodd" d="M-4.35,0a4.35,3.5 0 1,0 8.7,0a4.35,3.5 0 1,0 -8.7,0ZM-3.0,0a3.0,3.0 0 1,0 6.0,0a3.0,3.0 0 1,0 -6.0,0Z"/><rect x="-0.8" y="-5.05" width="1.6" height="10.1"/><rect x="-1.95" y="-5.05" width="3.9" height="0.75"/><rect x="-1.95" y="4.3" width="3.9" height="0.75"/></g>
<g transform="translate(182.20,111.50)" fill="#111" stroke="none"><path fill-rule="evenodd" d="M-4.35,0a4.35,3.5 0 1,0 8.7,0a4.35,3.5 0 1,0 -8.7,0ZM-3.0,0a3.0,3.0 0 1,0 6.0,0a3.0,3.0 0 1,0 -6.0,0Z"/><rect x="-0.8" y="-5.05" width="1.6" height="10.1"/><rect x="-1.95" y="-5.05" width="3.9" height="0.75"/><rect x="-1.95" y="4.3" width="3.9" height="0.75"/></g>
<text font-family="Liberation Sans, sans-serif" font-size="15" x="142.76" y="117.9">=</text>
<text font-family="Liberation Sans, sans-serif" font-size="15" x="168.06" y="117.8">+</text>
<text font-family="Liberation Sans, sans-serif" font-size="10.5" x="161.80" y="118.7"> </text><path transform="translate(161.80,118.70) scale(0.0105,-0.0105)" d="M379,0L291,0L291,598L116,468L116,550L306,703L379,703Z"/>
<text font-family="Liberation Sans, sans-serif" font-size="10.5" x="186.88" y="118.6">2</text>
<g transform="translate(392.40,174.40)" fill="#111" stroke="none"><path fill-rule="evenodd" d="M-4.35,0a4.35,3.5 0 1,0 8.7,0a4.35,3.5 0 1,0 -8.7,0ZM-3.0,0a3.0,3.0 0 1,0 6.0,0a3.0,3.0 0 1,0 -6.0,0Z"/><rect x="-0.8" y="-5.05" width="1.6" height="10.1"/><rect x="-1.95" y="-5.05" width="3.9" height="0.75"/><rect x="-1.95" y="4.3" width="3.9" height="0.75"/></g>
<text font-family="Liberation Sans, sans-serif" font-size="10.5" x="396.60" y="181.9"> </text><path transform="translate(396.60,181.90) scale(0.0105,-0.0105)" d="M379,0L291,0L291,598L116,468L116,550L306,703L379,703Z"/>
<g transform="translate(197.70,249.40)" fill="#111" stroke="none"><path fill-rule="evenodd" d="M-4.35,0a4.35,3.5 0 1,0 8.7,0a4.35,3.5 0 1,0 -8.7,0ZM-3.0,0a3.0,3.0 0 1,0 6.0,0a3.0,3.0 0 1,0 -6.0,0Z"/><rect x="-0.8" y="-5.05" width="1.6" height="10.1"/><rect x="-1.95" y="-5.05" width="3.9" height="0.75"/><rect x="-1.95" y="4.3" width="3.9" height="0.75"/></g>
<text font-family="Liberation Sans, sans-serif" font-size="10.5" x="201.88" y="257.0">2</text>
<g transform="translate(9.60,260.30) rotate(-90)" fill="#111" stroke="none"><path fill-rule="evenodd" d="M-4.35,0a4.35,3.5 0 1,0 8.7,0a4.35,3.5 0 1,0 -8.7,0ZM-3.0,0a3.0,3.0 0 1,0 6.0,0a3.0,3.0 0 1,0 -6.0,0Z"/><rect x="-0.8" y="-5.05" width="1.6" height="10.1"/><rect x="-1.95" y="-5.05" width="3.9" height="0.75"/><rect x="-1.95" y="4.3" width="3.9" height="0.75"/></g>
</g>
</svg>
</body></html>
